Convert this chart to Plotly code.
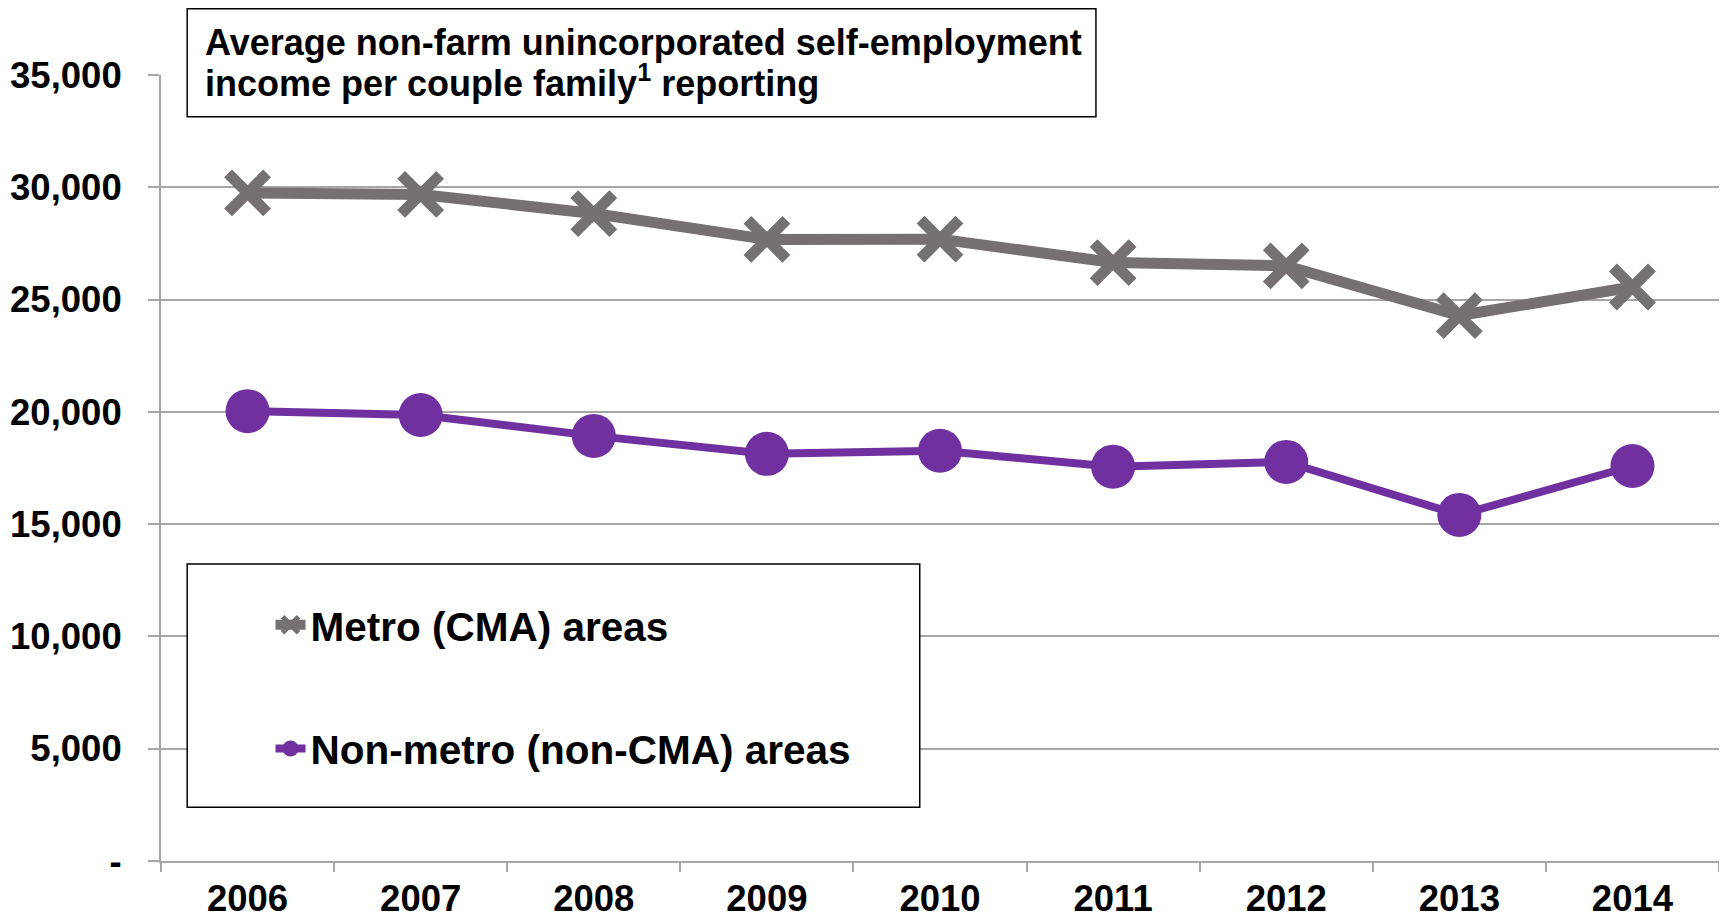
import plotly.graph_objects as go

years = ["2006", "2007", "2008", "2009", "2010", "2011", "2012", "2013", "2014"]
metro = [29750, 29680, 28830, 27680, 27690, 26650, 26500, 24290, 25560]
non_metro = [20030, 19860, 18930, 18130, 18270, 17560, 17770, 15410, 17590]

metro_name = "Metro (CMA) areas"
non_metro_name = "Non-metro (non-CMA) areas"

y_tickvals = [0, 5000, 10000, 15000, 20000, 25000, 30000, 35000]
y_ticktext = ["-", "5,000", "10,000", "15,000", "20,000", "25,000", "30,000", "35,000"]

title_line1 = "Average non-farm unincorporated self-employment"
title_line2 = "income per couple family<sup>1</sup> reporting"

GRAY = "#767171"
PURPLE = "#7030A0"
GRID = "#A6A6A6"
FONT = "Liberation Sans"

fig = go.Figure()
fig.add_trace(go.Scatter(
    x=years, y=metro, name=metro_name, mode="lines+markers",
    legendgroup="a",
    line=dict(color=GRAY, width=11),
    marker=dict(symbol="x-thin", size=39, color=GRAY, line=dict(color=GRAY, width=11)),
))
fig.add_trace(go.Scatter(
    x=years, y=non_metro, name=non_metro_name, mode="lines+markers",
    legendgroup="b",
    line=dict(color=PURPLE, width=8),
    marker=dict(symbol="circle", size=44, color=PURPLE),
))

fig.update_layout(
    width=1711, height=905,
    margin=dict(l=153, r=0, t=67, b=52, autoexpand=False),
    paper_bgcolor="white", plot_bgcolor="white",
    font=dict(family=FONT, color="black"),
    showlegend=True,
    legend=dict(
        x=0.0703, y=0.3422, xanchor="left", yanchor="top",
        bgcolor="rgba(0,0,0,0)", borderwidth=0,
        traceorder="grouped", tracegroupgap=68, itemwidth=30,
        font=dict(family=FONT, size=40.5, weight="bold", color="black"),
    ),
    xaxis=dict(
        type="category", range=[-0.5, 8.5], showgrid=False, showline=True,
        linecolor=GRID, linewidth=2, automargin=False,
        ticks="outside", tickson="boundaries", ticklen=9, tickwidth=2, tickcolor=GRID,
        tickfont=dict(family=FONT, size=36.5, weight="bold", color="black"),
        ticklabelstandoff=4,
    ),
    yaxis=dict(
        range=[0, 35000], tickvals=y_tickvals, ticktext=y_ticktext,
        showgrid=True, gridcolor=GRID, gridwidth=2, zeroline=False,
        showline=True, linecolor=GRID, linewidth=2, automargin=False,
        ticks="outside", ticklen=11, tickwidth=2, tickcolor=GRID,
        tickfont=dict(family=FONT, size=36.5, weight="bold", color="black"),
        ticklabelstandoff=19,
    ),
    shapes=[
        dict(type="rect", xref="paper", yref="paper", x0=0.01682, x1=0.6001, y0=0.9469, y1=1.0843,
             line=dict(color="black", width=1.5), fillcolor="white", layer="above"),
        dict(type="rect", xref="paper", yref="paper", x0=0.01682, x1=0.4870, y0=0.0683, y1=0.3780,
             line=dict(color="black", width=1.5), fillcolor="white", layer="above"),
    ],
    annotations=[
        dict(text=title_line1, xref="paper", yref="paper", x=0.02721, y=1.0416,
             xanchor="left", yanchor="middle", showarrow=False,
             font=dict(family=FONT, size=36, weight="bold", color="black")),
        dict(text=title_line2, xref="paper", yref="paper", x=0.02721, y=0.9921,
             xanchor="left", yanchor="middle", showarrow=False,
             font=dict(family=FONT, size=36, weight="bold", color="black")),
    ],
)

fig.write_html("out.html")
